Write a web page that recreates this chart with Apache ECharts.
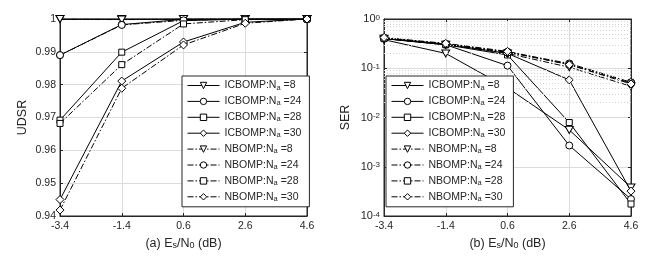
<!DOCTYPE html>
<html>
<head>
<meta charset="utf-8">
<script src="https://cdn.jsdelivr.net/npm/echarts@6/dist/echarts.min.js"></script>
<style>html,body{margin:0;padding:0;background:#fff}#c{width:664px;height:256px}</style>
</head>
<body>
<div id="c"></div>
<script>
// ---- data ----
const categories = ['-3.4', '-1.4', '0.6', '2.6', '4.6'];
const seriesNames = ['ICBOMP:N{sub|a}=8', 'ICBOMP:N{sub|a}=24', 'ICBOMP:N{sub|a}=28', 'ICBOMP:N{sub|a}=30',
                     'NBOMP:N{sub|a}=8', 'NBOMP:N{sub|a}=24', 'NBOMP:N{sub|a}=28', 'NBOMP:N{sub|a}=30'];
// (a) UDSR
const udsrIcb8  = [1, 1, 1, 1, 1];
const udsrIcb24 = [0.989, 0.9983, 0.9999, 1, 1];
const udsrIcb28 = [0.9692, 0.9899, 0.9995, 1, 1];
const udsrIcb30 = [0.9450, 0.9811, 0.9930, 0.9990, 1];
const udsrNb8   = [1, 0.9998, 1, 1, 1];
const udsrNb24  = [0.9890, 0.9982, 0.9996, 1, 1];
const udsrNb28  = [0.9682, 0.9861, 0.9985, 0.9998, 1];
const udsrNb30  = [0.9418, 0.9789, 0.9921, 0.9987, 1];
// (b) SER
const serIcb8  = [0.38, 0.20, 0.040, 0.0056, 0.00038];
const serIcb24 = [0.40, 0.30, 0.113, 0.0027, 0.00022];
const serIcb28 = [0.40, 0.30, 0.186, 0.0079, 0.000175];
const serIcb30 = [0.41, 0.31, 0.20, 0.058, 0.00032];
const serNb8   = [0.40, 0.30, 0.20, 0.105, 0.043];
const serNb24  = [0.41, 0.31, 0.215, 0.125, 0.052];
const serNb28  = [0.41, 0.31, 0.21, 0.12, 0.050];
const serNb30  = [0.42, 0.32, 0.22, 0.118, 0.048];
const udsrTicks = [0.94, 0.95, 0.96, 0.97, 0.98, 0.99, 1];
const serDecades = [-4, -3, -2, -1, 0];

// ---- styling ----
const FONT = 'Liberation Sans';
const TXT = '#262626';
const triDown = 'path://M0,0 L10,0 L5,9 Z';
const symbols = [triDown, 'circle', 'rect', 'diamond'];
const symSizes = [[8, 7], 7, 6, 8];
const dashDot = [6, 2, 1.5, 2];

const minorVals = [];
for (let i = 0; i < serDecades.length - 1; i++) {
  for (let k = 2; k <= 9; k++) minorVals.push(k * Math.pow(10, serDecades[i]));
}

const richLegend = {
  n: {fontFamily: FONT, fontSize: 10.5, color: TXT, lineHeight: 12, verticalAlign: 'middle'},
  sub: {fontFamily: FONT, fontSize: 7.5, color: TXT, lineHeight: 4, verticalAlign: 'bottom', padding: [0, 3, 0, 0]}
};
const richTitle = {
  sub: {fontFamily: FONT, fontSize: 9, color: TXT, lineHeight: 8, verticalAlign: 'bottom'}
};
const richSup = {
  sup: {fontFamily: FONT, fontSize: 8, color: TXT, lineHeight: 6, verticalAlign: 'top'}
};

function mkSeries(data, idx, xi, yi, prefix) {
  const sIdx = idx % 4;
  return {
    name: prefix + seriesNames[idx],
    type: 'line',
    xAxisIndex: xi, yAxisIndex: yi,
    data: data,
    symbol: symbols[sIdx],
    symbolSize: symSizes[sIdx],
    showAllSymbol: true,
    lineStyle: {color: '#000', width: 1, type: idx < 4 ? 'solid' : dashDot},
    itemStyle: {color: '#fff', borderColor: '#000', borderWidth: 1},
    emphasis: {disabled: true},
    animation: false,
    z: 3
  };
}

const gridL = {left: 60, top: 19, width: 247, height: 197, show: true, borderColor: TXT, borderWidth: 1, backgroundColor: 'transparent'};
const gridR = {left: 384, top: 19, width: 247, height: 197, show: true, borderColor: TXT, borderWidth: 1, backgroundColor: 'transparent'};

function catAxis(gi, name, main) {
  return {
    type: 'category', gridIndex: gi, data: categories, boundaryGap: false,
    position: main ? 'bottom' : 'top',
    axisLine: {show: true, lineStyle: {color: TXT, width: 1}},
    axisTick: {show: true, inside: true, length: 3, lineStyle: {color: TXT}},
    axisLabel: {show: main, margin: 5, fontFamily: FONT, fontSize: 10.5, color: TXT},
    splitLine: {show: main, lineStyle: {color: '#dcdcdc', width: 1}},
    name: main ? name : '', nameLocation: 'middle', nameGap: 18,
    nameTextStyle: {fontFamily: FONT, fontSize: 12.5, color: TXT, rich: richTitle}
  };
}

const ySerLabel = v => {
  const e = Math.round(Math.log10(v));
  return '10{sup|' + (e < 0 ? '-' + (-e) : e) + '}';
};

function mkLegend(left, prefix) {
  return {
    left: left, top: 76, orient: 'vertical', itemWidth: 32, itemHeight: 8, itemGap: 4.4,
    padding: [4, 8, 4, 5], backgroundColor: '#fff', borderColor: TXT, borderWidth: 1, borderRadius: 0,
    z: 10, selectedMode: false, align: 'left',
    lineStyle: {width: 1},
    itemStyle: {borderWidth: 1},
    textStyle: {fontFamily: FONT, fontSize: 10.5, color: TXT, rich: richLegend},
    formatter: n => '{n|' + n.slice(prefix.length).replace('{sub|a}', '}{sub|a}{n|') + '}',
    data: seriesNames.map(n => prefix + n)
  };
}

const option = {
  backgroundColor: '#fff',
  animation: false,
  grid: [gridL, gridR],
  xAxis: [
    catAxis(0, '(a) E{sub|s}/N{sub|0} (dB)', true),
    catAxis(1, '(b) E{sub|s}/N{sub|0} (dB)', true),
    catAxis(0, '', false),
    catAxis(1, '', false)
  ],
  yAxis: [
    {
      type: 'value', gridIndex: 0, min: udsrTicks[0], max: udsrTicks[udsrTicks.length - 1], interval: 0.01,
      axisLine: {show: true, lineStyle: {color: TXT}},
      axisTick: {show: true, inside: true, length: 3, lineStyle: {color: TXT}},
      axisLabel: {margin: 4, fontFamily: FONT, fontSize: 10.5, color: TXT, formatter: v => String(+v.toFixed(2))},
      splitLine: {show: true, lineStyle: {color: '#dcdcdc', width: 1}},
      name: 'UDSR', nameLocation: 'middle', nameGap: 31,
      nameTextStyle: {fontFamily: FONT, fontSize: 12.5, color: TXT}
    },
    {
      type: 'log', gridIndex: 1, min: Math.pow(10, serDecades[0]), max: Math.pow(10, serDecades[serDecades.length - 1]), logBase: 10,
      axisLine: {show: true, lineStyle: {color: TXT}},
      axisTick: {show: true, inside: true, length: 3, lineStyle: {color: TXT}},
      axisLabel: {margin: 4, fontFamily: FONT, fontSize: 11, color: TXT, formatter: ySerLabel, rich: richSup},
      splitLine: {show: true, lineStyle: {color: '#dcdcdc', width: 1}},
      name: 'SER', nameLocation: 'middle', nameGap: 32,
      nameTextStyle: {fontFamily: FONT, fontSize: 12.5, color: TXT}
    },
    {
      type: 'value', gridIndex: 0, position: 'right', min: udsrTicks[0], max: udsrTicks[udsrTicks.length - 1], interval: 0.01,
      axisLine: {show: true, lineStyle: {color: TXT}},
      axisTick: {show: true, inside: true, length: 3, lineStyle: {color: TXT}},
      axisLabel: {show: false}, splitLine: {show: false}
    },
    {
      type: 'log', gridIndex: 1, position: 'right', min: Math.pow(10, serDecades[0]), max: 1, logBase: 10,
      axisLine: {show: true, lineStyle: {color: TXT}},
      axisTick: {show: true, inside: true, length: 3, lineStyle: {color: TXT}},
      axisLabel: {show: false}, splitLine: {show: false}
    }
  ],
  legend: [mkLegend(182, 'a:'), mkLegend(386, 'b:')],
  series: [
    mkSeries(udsrIcb8, 0, 0, 0, 'a:'), mkSeries(udsrIcb24, 1, 0, 0, 'a:'),
    mkSeries(udsrIcb28, 2, 0, 0, 'a:'), mkSeries(udsrIcb30, 3, 0, 0, 'a:'),
    mkSeries(udsrNb8, 4, 0, 0, 'a:'), mkSeries(udsrNb24, 5, 0, 0, 'a:'),
    mkSeries(udsrNb28, 6, 0, 0, 'a:'), mkSeries(udsrNb30, 7, 0, 0, 'a:'),
    mkSeries(serIcb8, 0, 1, 1, 'b:'), mkSeries(serIcb24, 1, 1, 1, 'b:'),
    mkSeries(serIcb28, 2, 1, 1, 'b:'), mkSeries(serIcb30, 3, 1, 1, 'b:'),
    mkSeries(serNb8, 4, 1, 1, 'b:'), mkSeries(serNb24, 5, 1, 1, 'b:'),
    mkSeries(serNb28, 6, 1, 1, 'b:'), mkSeries(serNb30, 7, 1, 1, 'b:'),
    {
      name: 'minorGrid', type: 'line', xAxisIndex: 1, yAxisIndex: 1, data: [], silent: true, z: 1,
      markLine: {
        silent: true, symbol: ['none', 'none'], animation: false,
        label: {show: false},
        lineStyle: {color: '#d4d4d4', width: 1, type: [1, 2]},
        emphasis: {disabled: true},
        data: minorVals.map(v => ({yAxis: v}))
      }
    }
  ]
};

const chart = echarts.init(document.getElementById('c'), null, {renderer: 'canvas'});
chart.setOption(option);
</script>
</body>
</html>
